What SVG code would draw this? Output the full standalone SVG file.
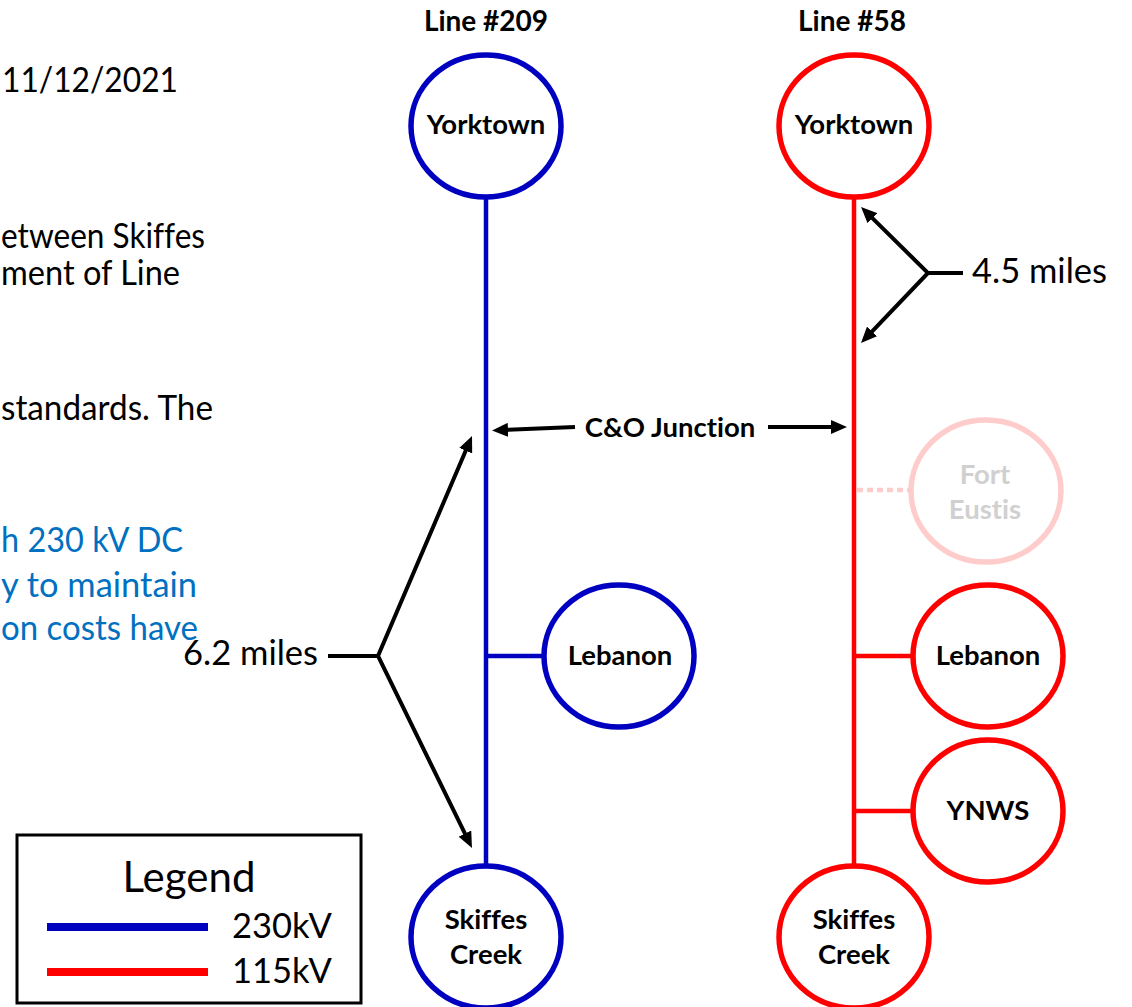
<svg xmlns="http://www.w3.org/2000/svg" width="1132" height="1007" viewBox="0 0 1132 1007">
<defs>
<style>
text{font-family:Lato,"Open Sans","Liberation Sans",sans-serif;font-variant-ligatures:none;}
.body{font-size:34.5px;fill:#000;}
.note{font-size:34.5px;fill:#0070C0;}
.lbl{font-size:27.5px;font-weight:bold;fill:#000;text-anchor:middle;}
.ttl{font-size:28px;font-weight:bold;fill:#000;text-anchor:middle;}
.blue{fill:#fff;stroke:#0000C0;stroke-width:5.5;}
.red{fill:#fff;stroke:#FF0000;stroke-width:5.5;}
.faint{fill:#fff;stroke:#FFCCCC;stroke-width:5.5;}
.bl{stroke:#0000C0;stroke-width:4.5;fill:none;}
.rl{stroke:#FF0000;stroke-width:4.5;fill:none;}
.arr{stroke:#000;stroke-width:4;fill:none;}
</style>
<marker id="ah" viewBox="0 0 16 14" refX="4" refY="7" markerWidth="16" markerHeight="14" markerUnits="userSpaceOnUse" orient="auto-start-reverse">
<path d="M0,0 L16,7 L0,14 z" fill="#000"/>
</marker>
</defs>

<g id="side-text">
<text class="body" x="2" y="92" textLength="176" lengthAdjust="spacingAndGlyphs">11/12/2021</text>
<text class="body" x="1" y="248" textLength="204" lengthAdjust="spacingAndGlyphs">etween Skiffes</text>
<text class="body" x="1" y="285" textLength="179" lengthAdjust="spacingAndGlyphs">ment of Line</text>
<text class="body" x="1" y="420" textLength="212" lengthAdjust="spacingAndGlyphs">standards. The</text>
<text class="note" x="1" y="552" textLength="182" lengthAdjust="spacingAndGlyphs">h 230 kV DC</text>
<text class="note" x="1" y="597" textLength="196" lengthAdjust="spacingAndGlyphs">y to maintain</text>
<text class="note" x="1" y="640" textLength="197" lengthAdjust="spacingAndGlyphs">on costs have</text>
</g>

<g id="titles">
<text class="ttl" x="486" y="31">Line #209</text>
<text class="ttl" x="852" y="31">Line #58</text>
</g>

<g id="connectors">
<line class="bl" x1="486" y1="198" x2="486" y2="866"/>
<line class="bl" x1="486" y1="656" x2="544" y2="656"/>
<line class="rl" x1="854" y1="198" x2="854" y2="866"/>
<line class="rl" x1="854" y1="656" x2="913" y2="656"/>
<line class="rl" x1="854" y1="811" x2="913" y2="811"/>
<line x1="857" y1="490" x2="910" y2="490" stroke="#FFCCCC" stroke-width="4.5" stroke-dasharray="6,4"/>
<line class="arr" x1="575" y1="427" x2="504" y2="430" marker-end="url(#ah)"/>
<line class="arr" x1="768" y1="427" x2="835" y2="427" marker-end="url(#ah)"/>
<path class="arr" d="M869.6,215.4 L928,273 L869.3,334.3" marker-start="url(#ah)" marker-end="url(#ah)"/>
<line class="arr" x1="928" y1="273" x2="963" y2="273"/>
<path class="arr" d="M467.3,447 L378,656 L466.7,837.2" marker-start="url(#ah)" marker-end="url(#ah)"/>
<line class="arr" x1="328" y1="656" x2="378" y2="656"/>
<text class="lbl" x="670" y="437">C&amp;O Junction</text>
<text class="body" x="972" y="283">4.5 miles</text>
<text class="body" x="318" y="665" text-anchor="end">6.2 miles</text>
</g>

<g id="yorktown-209">
<ellipse class="blue" cx="486" cy="126" rx="75" ry="71"/>
<text class="lbl" x="486" y="134">Yorktown</text>
</g>
<g id="lebanon-209">
<ellipse class="blue" cx="619" cy="656" rx="75" ry="71"/>
<text class="lbl" x="620" y="665">Lebanon</text>
</g>
<g id="skiffes-209">
<ellipse class="blue" cx="486" cy="937" rx="75" ry="71"/>
<text class="lbl" x="486" y="929">Skiffes</text>
<text class="lbl" x="486" y="964">Creek</text>
</g>

<g id="yorktown-58">
<ellipse class="red" cx="854" cy="126" rx="75" ry="71"/>
<text class="lbl" x="854" y="134">Yorktown</text>
</g>
<g id="fort-eustis">
<ellipse class="faint" cx="986" cy="491" rx="75" ry="71"/>
<text class="lbl" x="985" y="484" style="fill:#D0D0D0">Fort</text>
<text class="lbl" x="985" y="519" style="fill:#D0D0D0">Eustis</text>
</g>
<g id="lebanon-58">
<ellipse class="red" cx="988" cy="656" rx="75" ry="71"/>
<text class="lbl" x="988" y="665">Lebanon</text>
</g>
<g id="ynws-58">
<ellipse class="red" cx="988" cy="811" rx="75" ry="71"/>
<text class="lbl" x="988" y="820">YNWS</text>
</g>
<g id="skiffes-58">
<ellipse class="red" cx="854" cy="937" rx="75" ry="71"/>
<text class="lbl" x="854" y="929">Skiffes</text>
<text class="lbl" x="854" y="964">Creek</text>
</g>

<g id="legend">
<rect x="17" y="835" width="344" height="168" fill="#fff" stroke="#000" stroke-width="3"/>
<text x="189" y="892" font-size="42" text-anchor="middle">Legend</text>
<line x1="47" y1="927" x2="208" y2="927" stroke="#0000C0" stroke-width="8"/>
<line x1="47" y1="972" x2="208" y2="972" stroke="#FF0000" stroke-width="8"/>
<text class="body" x="232" y="938">230kV</text>
<text class="body" x="232" y="983">115kV</text>
</g>
</svg>
